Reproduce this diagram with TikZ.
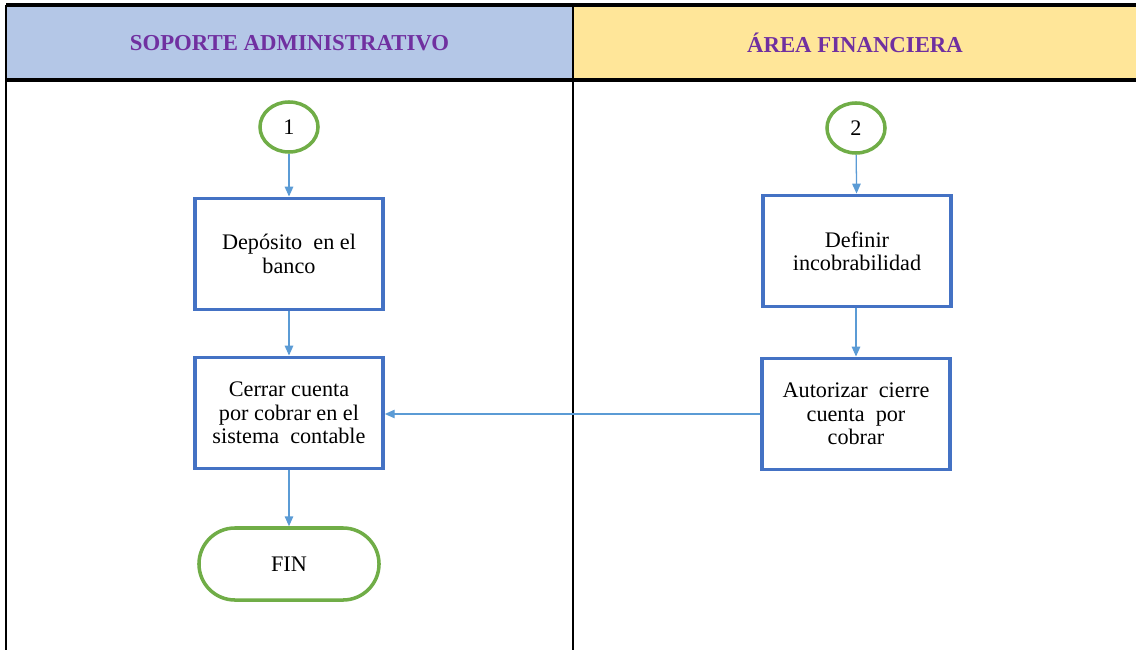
\documentclass[tikz,border=0pt]{standalone}
\usepackage{fontspec}
\setmainfont{Liberation Serif}[Ligatures=TeX]
\usepackage{tikz}
\usetikzlibrary{arrows.meta, positioning, shapes.geometric}
\usepackage{xcolor}
\definecolor{laneblue}{HTML}{B4C7E7}
\definecolor{laneyellow}{HTML}{FFE699}
\definecolor{headpurple}{HTML}{7030A0}
\definecolor{boxblue}{HTML}{4472C4}
\definecolor{startgreen}{HTML}{70AD47}
\definecolor{arrowblue}{HTML}{5B9BD5}

\begin{document}
\begin{tikzpicture}[
  x=0.025cm, y=-0.025cm,
  lane/.style={font=\rmfamily\fontsize{16.2}{18}\selectfont\bfseries, headpurple},
  proc/.style={draw=boxblue, line width=2.6pt, fill=white,
               minimum width=4.7cm, minimum height=2.78cm,
               align=center, font=\rmfamily\fontsize{15.8}{16.6}\selectfont},
  conn/.style={ellipse, draw=startgreen, line width=2.5pt,
               minimum width=1.45cm, minimum height=1.25cm,
               inner sep=0pt, font=\rmfamily\fontsize{15.8}{16.6}\selectfont},
  term/.style={draw=startgreen, line width=2.5pt, rounded corners=0.9cm,
               minimum width=4.5cm, minimum height=1.8cm,
               font=\rmfamily\fontsize{15.8}{16.6}\selectfont},
  arr/.style={-{Triangle[length=7pt, width=6pt]}, arrowblue, line width=0.9pt}
]
  \useasboundingbox (0,0) rectangle (1136,650);

  % Swimlane headers
  \fill[laneblue] (6,5) rectangle (573,80);
  \fill[laneyellow] (573,5) rectangle (1136,80);
  \node[lane] (hSop) at (289.5,43) {SOPORTE ADMINISTRATIVO};
  \node[lane] (hFin) at (855,43) {ÁREA FINANCIERA};
  \draw[line width=2.2pt] (6,5) -- (1136,5);
  \draw[line width=2.2pt] (6,80) -- (1136,80);
  \draw[line width=1.8pt] (6,5) -- (6,650);
  \draw[line width=1.5pt] (573,5) -- (573,650);

  % Soporte administrativo
  \node[conn] (c1) at (289,127) {1};
  \node[proc] (deposito) at (289,254) {Depósito\ \ en el\\banco};
  \node[proc] (cerrar) at (289,413) {Cerrar cuenta\\por cobrar en el\\sistema\ \ contable};
  \node[term] (fin) at (289,564) {FIN};

  % Area financiera
  \node[conn] (c2) at (856,128) {2};
  \node[proc] (definir) at (857,251) {Definir\\incobrabilidad};
  \node[proc] (autorizar) at (856,414) {Autorizar\ \ cierre\\cuenta\ \ por\\cobrar};

  % Connectors
  \draw[arr] (c1) -- (deposito);
  \draw[arr] (deposito) -- (cerrar);
  \draw[arr] (cerrar) -- (fin);
  \draw[arr] (c2) -- (definir);
  \draw[arr] (definir.south -| autorizar) -- (autorizar);
  \draw[arr] (autorizar.west) -- (autorizar.west -| cerrar.east);
\end{tikzpicture}
\end{document}
